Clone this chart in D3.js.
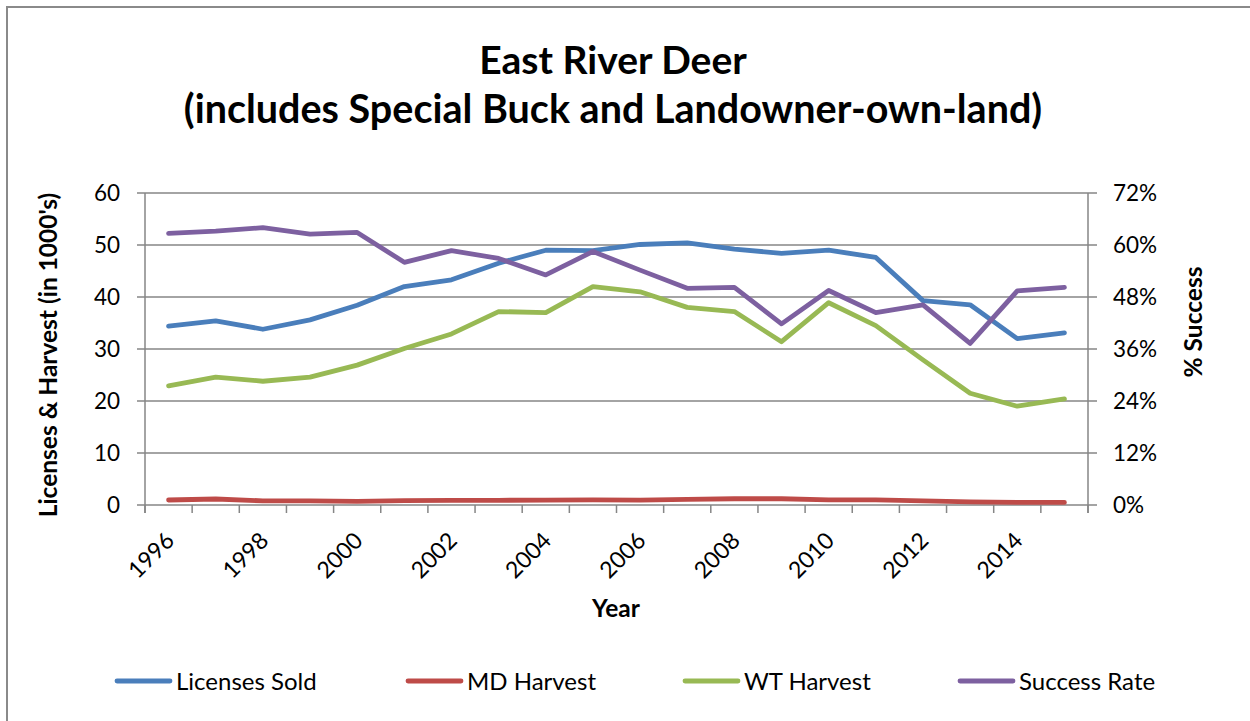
<!DOCTYPE html>
<html><head><meta charset="utf-8">
<script src="https://cdn.jsdelivr.net/npm/d3@7"></script>
<style>body{margin:0;background:#fff;} svg{display:block;font-family:Lato,"Open Sans",sans-serif;}</style>
</head><body>
<svg id="c" width="1250" height="721"></svg>
<script>
const years = [1996,1997,1998,1999,2000,2001,2002,2003,2004,2005,2006,2007,2008,2009,2010,2011,2012,2013,2014,2015];
const licensesSold = [34.4,35.4,33.8,35.6,38.4,42.0,43.3,46.5,49.0,48.9,50.1,50.4,49.2,48.4,49.0,47.6,39.3,38.5,32.0,33.1];
const mdHarvest   = [0.96,1.15,0.8,0.8,0.7,0.85,0.9,0.9,0.95,1.0,0.95,1.1,1.2,1.2,1.0,1.0,0.8,0.6,0.5,0.5];
const wtHarvest   = [22.9,24.6,23.8,24.6,26.9,30.1,32.9,37.2,37.0,42.0,41.0,38.0,37.2,31.4,38.9,34.5,27.9,21.5,19.0,20.4];
const successRate = [62.7,63.2,64.0,62.5,62.9,56.0,58.7,56.9,53.1,58.5,54.2,50.0,50.2,41.8,49.5,44.4,46.2,37.3,49.4,50.2];
const leftTicks = [0,10,20,30,40,50,60];
const rightTicks = [0,12,24,36,48,60,72];
const labelYears = [1996,1998,2000,2002,2004,2006,2008,2010,2012,2014];
const seriesNames = ["Licenses Sold","MD Harvest","WT Harvest","Success Rate"];
const colors = ["#4a7ebb","#be4b48","#98b954","#7d60a0"];

const svg = d3.select("#c");
const L=145, R=1088, T=193, B=505;
const x = d3.scaleBand().domain(years).range([L,R]).padding(0);
const cx = d => x(d)+x.bandwidth()/2;
const yL = d3.scaleLinear().domain([0,60]).range([B,T]);
const yR = d3.scaleLinear().domain([0,72]).range([B,T]);
const grid="#868686";

// outer frame (top and left edges visible)
svg.append("line").attr("x1",7).attr("x2",1250).attr("y1",7).attr("y2",7).attr("stroke","#8a8a8a").attr("stroke-width",2);
svg.append("line").attr("x1",7).attr("x2",7).attr("y1",6).attr("y2",721).attr("stroke","#8a8a8a").attr("stroke-width",2);

// gridlines
svg.append("g").selectAll("line").data(leftTicks).join("line")
  .attr("x1",L-8).attr("x2",R+9).attr("y1",d=>yL(d)).attr("y2",d=>yL(d))
  .attr("stroke",grid).attr("stroke-width",1.5);
// axis lines
svg.append("line").attr("x1",L).attr("x2",L).attr("y1",T).attr("y2",B+8).attr("stroke",grid).attr("stroke-width",1.5);
svg.append("line").attr("x1",R).attr("x2",R).attr("y1",T).attr("y2",B+8).attr("stroke",grid).attr("stroke-width",1.5);
// x ticks at band edges
const edges = years.map(d=>x(d)).concat([R]);
svg.append("g").selectAll("line").data(edges).join("line")
  .attr("x1",d=>d).attr("x2",d=>d).attr("y1",B).attr("y2",B+8).attr("stroke",grid).attr("stroke-width",1.5);

// left tick labels
svg.append("g").selectAll("text").data(leftTicks).join("text")
  .attr("x",120).attr("y",d=>yL(d)).attr("dy","0.36em").attr("text-anchor","end")
  .attr("font-size",22.5).attr("fill","#000").text(d=>d);
// right tick labels
svg.append("g").selectAll("text").data(rightTicks).join("text")
  .attr("x",1113).attr("y",d=>yR(d)).attr("dy","0.36em").attr("text-anchor","start")
  .attr("font-size",22.5).attr("fill","#000").text(d=>d+"%");
// x tick labels
svg.append("g").selectAll("text").data(labelYears).join("text")
  .attr("transform",d=>`translate(${cx(d)+7},${542}) rotate(-45)`)
  .attr("text-anchor","end").attr("font-size",23).attr("fill","#000").text(d=>d);

// lines
const lineL = d3.line().x((d,i)=>cx(years[i])).y(d=>yL(d));
const lineR = d3.line().x((d,i)=>cx(years[i])).y(d=>yR(d));
const data = [[licensesSold,lineL],[mdHarvest,lineL],[wtHarvest,lineL],[successRate,lineR]];
data.forEach(([vals,gen],i)=>{
  svg.append("path").attr("d",gen(vals)).attr("fill","none").attr("stroke",colors[i])
    .attr("stroke-width",4.8).attr("stroke-linejoin","round").attr("stroke-linecap","round");
});

// titles
svg.append("text").attr("x",613).attr("y",74).attr("text-anchor","middle").attr("font-size",39).attr("font-weight","bold").text("East River Deer");
svg.append("text").attr("x",613).attr("y",123).attr("text-anchor","middle").attr("font-size",39.5).attr("font-weight","bold").text("(includes Special Buck and Landowner-own-land)");
svg.append("text").attr("transform","translate(57,355) rotate(-90)").attr("text-anchor","middle").attr("font-size",24.5).attr("font-weight","bold").text("Licenses & Harvest (in 1000's)");
svg.append("text").attr("transform","translate(1202,322) rotate(-90)").attr("text-anchor","middle").attr("font-size",24.5).attr("font-weight","bold").text("% Success");
svg.append("text").attr("x",616).attr("y",617).attr("text-anchor","middle").attr("font-size",24.5).attr("font-weight","bold").text("Year");

// legend
const legX = [117,408,685,960];
const lg = svg.append("g").selectAll("g").data(seriesNames).join("g").attr("transform",(d,i)=>`translate(${legX[i]},681)`);
lg.append("line").attr("x1",0).attr("x2",53).attr("y1",0).attr("y2",0).attr("stroke",(d,i)=>colors[i]).attr("stroke-width",4.8).attr("stroke-linecap","round");
lg.append("text").attr("x",59).attr("y",0).attr("dy","0.36em").attr("font-size",24).text(d=>d);
</script>
</body></html>
